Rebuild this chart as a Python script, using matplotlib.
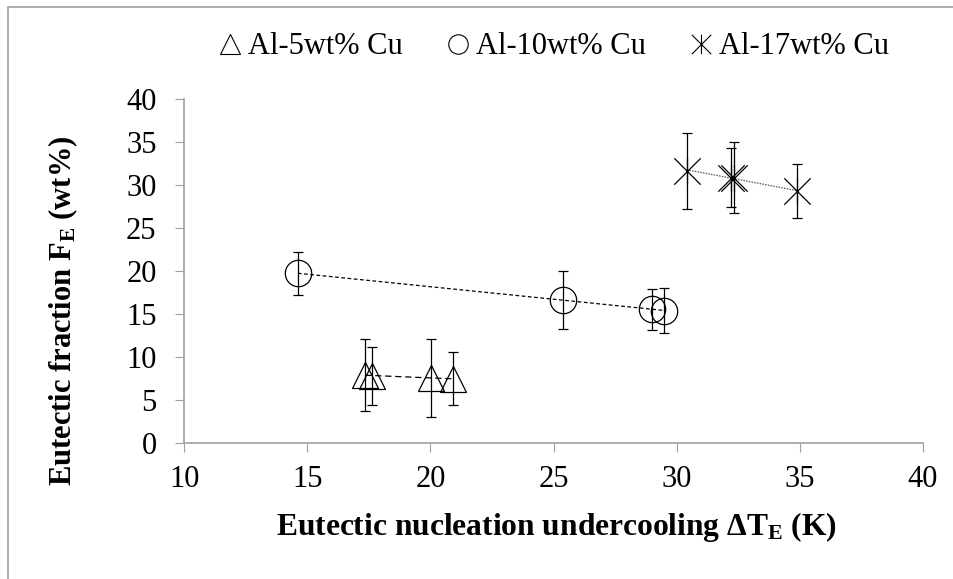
import matplotlib
matplotlib.use('Agg')
import matplotlib.pyplot as plt
import numpy as np
from matplotlib.lines import Line2D
from matplotlib.path import Path
from matplotlib.patches import Rectangle

plt.rcParams['font.family'] = 'Liberation Serif'
plt.rcParams['mathtext.fontset'] = 'custom'
plt.rcParams['mathtext.rm'] = 'Liberation Serif'
plt.rcParams['mathtext.bf'] = 'Liberation Serif:bold'

# undercooling dT_E (K), eutectic fraction F_E (wt%), error bars
al5_x = [17.35, 17.61, 20.02, 20.90]
al5_y = [7.94, 7.86, 7.60, 7.50]
al5_err = [4.15, 3.37, 4.50, 3.08]

al10_x = [14.61, 25.40, 29.01, 29.50]
al10_y = [19.76, 16.68, 15.57, 15.43]
al10_err = [2.52, 3.35, 2.37, 2.63]

al17_x = [30.41, 32.20, 32.32, 34.91]
al17_y = [31.70, 30.90, 30.90, 29.30]
al17_err = [4.42, 3.40, 4.10, 3.14]

labels = ['Al-5wt% Cu', 'Al-10wt% Cu', 'Al-17wt% Cu']
xticks = [10, 15, 20, 25, 30, 35, 40]
yticks = [0, 5, 10, 15, 20, 25, 30, 35, 40]

# X with a vertical bar, like the spreadsheet "star" marker
star = Path([(-1, -1), (1, 1), (-1, 1), (1, -1), (0, -1), (0, 1)],
            [Path.MOVETO, Path.LINETO, Path.MOVETO, Path.LINETO, Path.MOVETO, Path.LINETO])

fig = plt.figure(figsize=(9.54, 5.79), dpi=100)
ax = fig.add_axes([0.1932, 0.2344, 0.774, 0.5941])

series = [
    (al5_x, al5_y, al5_err, '^', 18.5, (0, (5, 3))),
    (al10_x, al10_y, al10_err, 'o', 19, (0, (3, 2))),
    (al17_x, al17_y, al17_err, star, 19, (0, (1.2, 1))),
]
for xs, ys, es, mk, ms, ls in series:
    # linear trendline over the range of the series
    k, b = np.polyfit(xs, ys, 1)
    tx = np.array([min(xs), max(xs)])
    ax.plot(tx, k * tx + b, color='k' if mk != star else '#555555',
            lw=0.9, ls=ls, zorder=2)
    ax.errorbar(xs, ys, yerr=es, fmt='none', ecolor='k', elinewidth=0.9,
                capsize=3.6, capthick=0.9, zorder=3)
    ax.plot(xs, ys, ls='none', marker=mk, ms=ms, mfc='none', mec='k',
            mew=0.9, zorder=4)

ax.set_xlim(10, 40)
ax.set_ylim(0, 40)
ax.set_xticks(xticks)
ax.set_yticks(yticks)
ax.tick_params(labelsize=22, length=6.5, width=0.8, color='#a0a0a0')
ax.tick_params(axis='y', pad=13.5)
ax.tick_params(axis='x', pad=9)
for s in ['top', 'right']:
    ax.spines[s].set_visible(False)
for s in ['left', 'bottom']:
    ax.spines[s].set_color('#a0a0a0')
    ax.spines[s].set_linewidth(1.2)

fig.text(0.583, 0.076, r'Eutectic nucleation undercooling Δ$\mathbf{T_E}$ (K)',
         ha='center', va='baseline', fontsize=22.7, fontweight='bold')
fig.text(0.066, 1 - 311 / 579, r'Eutectic fraction $\mathbf{F_E}$ (wt%)',
         ha='center', va='center', rotation=90, fontsize=22, fontweight='bold')

handles = [Line2D([], [], ls='none', marker=m, ms=14, mfc='none', mec='k', mew=0.8)
           for m in ['^', 'o', star]]
fig.legend(handles, labels, loc='center', bbox_to_anchor=(0.58, 0.919), ncol=3,
           frameon=False, fontsize=22, handlelength=0.8, handletextpad=0.2,
           columnspacing=1.4)

# chart-area border
fig.patches.append(Rectangle((8.5 / 954, -0.05), 1.2, 1 - 6.7 / 579 + 0.05,
                             transform=fig.transFigure, fill=False,
                             ec='#a0a0a0', lw=1.2))

fig.savefig('out.png', dpi=100)
